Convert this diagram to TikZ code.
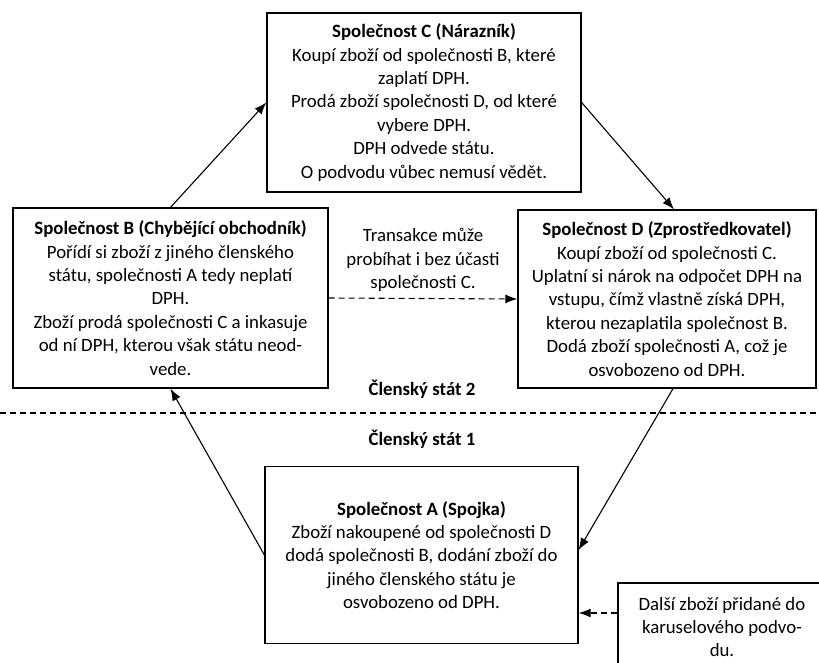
\documentclass[tikz,border=0pt]{standalone}
\usepackage{fontspec}
\setmainfont{Carlito}
\usetikzlibrary{arrows.meta,positioning}

\begin{document}
\begin{tikzpicture}[
    x=1pt, y=-1pt,
    font=\fontsize{18.8}{23.4}\selectfont,
    >={Latex[length=12pt,width=9pt]},
    box/.style={draw, line width=1.3pt, align=center, inner sep=0pt},
    arr/.style={->, line width=1.1pt},
    darr/.style={->, line width=1.1pt, dash pattern=on 6pt off 4pt},
    lbl/.style={font=\fontsize{18.8}{23.4}\selectfont\bfseries}
  ]
    \useasboundingbox (0,0) rectangle (819,663);
    \node[box, minimum width=314pt, minimum height=179pt] (C) at (424,102.5)
      {\textbf{Společnost C (Nárazník)}\\Koupí zboží od společnosti B, které\\zaplatí DPH.\\Prodá zboží společnosti D, od které\\vybere DPH.\\DPH odvede státu.\\O podvodu vůbec nemusí vědět.};
    \node[box, minimum width=315pt, minimum height=180pt] (B) at (170.5,298)
      {\textbf{Společnost B (Chybějící obchodník)}\\Pořídí si zboží z jiného členského\\státu, společnosti A tedy neplatí\\DPH.\\Zboží prodá společnosti C a inkasuje\\od ní DPH, kterou však státu neod-\\vede.};
    \node[box, minimum width=298pt, minimum height=178pt] (D) at (667,299)
      {\textbf{Společnost D (Zprostředkovatel)}\\Koupí zboží od společnosti C.\\Uplatní si nárok na odpočet DPH na\\vstupu, čímž vlastně získá DPH,\\kterou nezaplatila společnost B.\\Dodá zboží společnosti A, což je\\osvobozeno od DPH.};
    \node[box, minimum width=313pt, minimum height=177pt] (A) at (421.5,555)
      {\textbf{Společnost A (Spojka)}\\Zboží nakoupené od společnosti D\\dodá společnosti B, dodání zboží do\\jiného členského státu je\\osvobozeno od DPH.};
    \node[box, minimum width=208pt, minimum height=88pt] (E) at (722,627)
      {Další zboží přidané do\\karuselového podvo-\\du.};
    \node[align=center] (note) at (423,260) {Transakce může\\probíhat i bez účasti\\společnosti C.};
    % hranice mezi státy
    \coordinate (sep) at (422,413);
    \draw[line width=1.1pt, dash pattern=on 6pt off 4pt] (0,413) -- (819,413);
    \node[lbl, above=24pt of sep, anchor=center] (st2) {Členský stát 2};
    \node[lbl, below=26pt of sep, anchor=center] (st1) {Členský stát 1};
    \draw[arr] (B.north) -- (C.west);
    \draw[arr] (C.east) -- ([xshift=7pt]D.north);
    \draw[arr] ([xshift=6pt]D.south) -- ([yshift=5pt]A.east);
    \draw[arr] (A.west) -- (B.south);
    \draw[darr] (B.east) -- (D.west);
    \draw[darr] ([yshift=14pt]E.west) -- ([yshift=14pt]E.west -| A.east);
  \end{tikzpicture}
\end{document}
